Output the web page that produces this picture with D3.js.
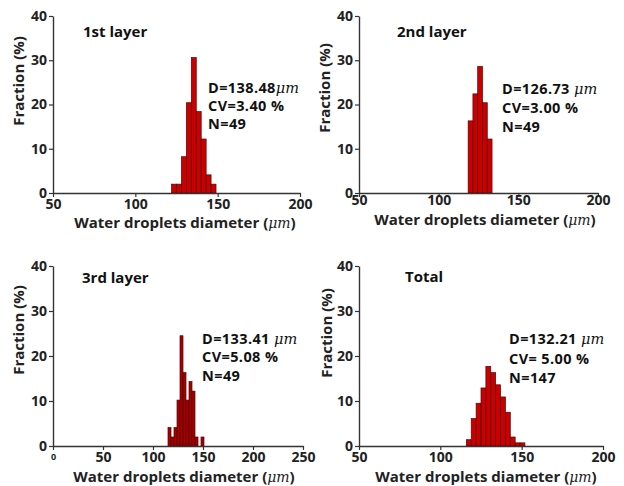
<!DOCTYPE html>
<html><head><meta charset="utf-8">
<script src="https://cdn.jsdelivr.net/npm/d3@7"></script>
<style>
html,body{margin:0;padding:0;background:#fff;}
svg{display:block;font-family:"Open Sans","Noto Sans",sans-serif;}
</style></head>
<body>
<svg id="c" width="624" height="486"></svg>
<script>
// ---- data ----
const titles = ["1st layer", "2nd layer", "3rd layer", "Total"];
const yTicks = [0, 10, 20, 30, 40];
const xTicksA = [50, 100, 150, 200];
const xTicksB = [0, 50, 100, 150, 200, 250];
const xDomainA = [50, 200];
const xDomainB = [0, 250];
const yDomain = [0, 40];

const binStart = [122, 118.5, 115, 116];
const binWidth = [3, 3, 3, 3];
const frac1 = [2.0, 2.0, 8.2, 20.4, 30.6, 18.4, 12.2, 4.1, 2.0];
const frac2 = [16.3, 22.4, 28.6, 20.4, 12.2];
const frac3 = [4.1, 2.0, 4.1, 10.2, 24.5, 16.3, 10.2, 14.3, 12.2, 2.0, 0, 2.0];
const frac4 = [1.4, 6.1, 9.5, 12.9, 17.7, 16.3, 13.6, 10.9, 7.5, 2.0, 0.7, 0.7];

const statD = ["138.48", "126.73", "133.41", "132.21"];
const statDsep = ["", " ", " ", " "];
const statCV = ["CV=3.40 %", "CV=3.00 %", "CV=5.08 %", "CV= 5.00 %"];
const statN = ["N=49", "N=49", "N=49", "N=147"];

// ---- layout ----
const layout = [
  {x0: 53, x1: 300, y0: 193, y1: 16, dom: xDomainA, ticks: xTicksA, frac: frac1,
   tx: 83, ty: 32, ax: 208, ay: [88, 106, 124], tickY: 204, titleY: 228, titleX: 185, ylx: 19, yly: 81},
  {x0: 359, x1: 598, y0: 193, y1: 16, dom: xDomainA, ticks: xTicksA, frac: frac2,
   tx: 397, ty: 32, ax: 502, ay: [89, 108, 127], tickY: 200, titleY: 224.5, titleX: 485, ylx: 325, yly: 88},
  {x0: 53, x1: 303, y0: 446, y1: 266, dom: xDomainB, ticks: xTicksB, frac: frac3,
   tx: 82, ty: 278, ax: 202, ay: [339, 357, 376], tickY: 457, titleY: 481.5, titleX: 184, ylx: 19, yly: 330},
  {x0: 359, x1: 603, y0: 446, y1: 266, dom: xDomainA, ticks: xTicksA, frac: frac4,
   tx: 405, ty: 277, ax: 509, ay: [339, 359, 378], tickY: 457, titleY: 481.5, titleX: 486, ylx: 327, yly: 333}
];

const svg = d3.select("#c");
const axisColor = "#333";
const muFont = '"DejaVu Serif","Liberation Serif",serif';

layout.forEach((L, i) => {
  const x = d3.scaleLinear().domain(L.dom).range([L.x0, L.x1]);
  const y = d3.scaleLinear().domain(yDomain).range([L.y0, L.y1]);
  const g = svg.append("g");

  // bars
  const bins = L.frac.map((f, k) => ({lo: binStart[i] + k * binWidth[i], hi: binStart[i] + (k + 1) * binWidth[i], f}));
  g.selectAll("rect.bar").data(bins.filter(b => b.f > 0)).join("rect")
    .attr("x", b => x(b.lo)).attr("width", b => x(b.hi) - x(b.lo))
    .attr("y", b => y(b.f)).attr("height", b => y(0) - y(b.f))
    .attr("fill", i === 2 ? "#a30000" : "#c80000")
    .attr("stroke", "#5a0000").attr("stroke-width", 0.7);

  // axes
  const xa = d3.axisBottom(x).tickValues(L.ticks).tickSize(4).tickSizeOuter(0).tickFormat(d3.format("d"));
  const ya = d3.axisLeft(y).tickValues(yTicks).tickSize(4).tickSizeOuter(0).tickFormat(d3.format("d"));
  const gx = g.append("g").attr("transform", `translate(0,${L.y0})`).call(xa);
  const gy = g.append("g").attr("transform", `translate(${L.x0},0)`).call(ya);
  [gx, gy].forEach(a => {
    a.select(".domain").attr("stroke", axisColor).attr("stroke-width", 1.4);
    a.selectAll(".tick line").attr("stroke", axisColor).attr("stroke-width", 1.2);
    a.selectAll("text").attr("fill", "#222").attr("font-weight", "bold")
      .attr("font-family", '"Open Sans",sans-serif').attr("font-size", 14);
  });
  gx.selectAll(".tick text").attr("y", L.tickY - L.y0).attr("dy", "0.35em");
  if (i === 2) gx.selectAll(".tick text").filter(d => d === 0).attr("font-size", 9);
  gy.selectAll(".tick text").attr("x", -6);

  // x title
  const xt = g.append("text").attr("x", L.titleX).attr("y", L.titleY)
    .attr("text-anchor", "middle").attr("font-weight", "bold").attr("font-size", 15).attr("fill", "#222");
  xt.append("tspan").text("Water droplets diameter (");
  xt.append("tspan").text("μm").attr("font-style", "italic").attr("font-weight", "normal")
    .attr("font-family", muFont).attr("font-size", 14);
  xt.append("tspan").text(")");

  // y title
  g.append("text").attr("transform", `translate(${L.ylx},${L.yly}) rotate(-90)`)
    .attr("text-anchor", "middle").attr("dy", "0.35em")
    .attr("font-weight", "bold").attr("font-size", 15).attr("fill", "#222")
    .text("Fraction (%)");

  // panel title
  g.append("text").attr("x", L.tx).attr("y", L.ty).attr("dy", "0.35em")
    .attr("font-weight", "bold").attr("font-size", 15).attr("fill", "#111").text(titles[i]);

  // annotations
  const annSize = 14.5, annSpacing = 0.4;
  const a1 = g.append("text").attr("x", L.ax).attr("y", L.ay[0]).attr("dy", "0.35em")
    .attr("font-weight", "bold").attr("font-size", annSize).attr("letter-spacing", annSpacing).attr("fill", "#111");
  a1.append("tspan").text("D=" + statD[i] + statDsep[i]);
  a1.append("tspan").text("μm").attr("font-style", "italic").attr("font-weight", "normal")
    .attr("font-family", muFont).attr("font-size", 14.5).attr("letter-spacing", 0);
  g.append("text").attr("x", L.ax).attr("y", L.ay[1]).attr("dy", "0.35em")
    .attr("font-weight", "bold").attr("font-size", annSize).attr("letter-spacing", annSpacing)
    .attr("fill", "#111").text(statCV[i]);
  g.append("text").attr("x", L.ax).attr("y", L.ay[2]).attr("dy", "0.35em")
    .attr("font-weight", "bold").attr("font-size", annSize).attr("letter-spacing", annSpacing)
    .attr("fill", "#111").text(statN[i]);
});
</script>
</body></html>
